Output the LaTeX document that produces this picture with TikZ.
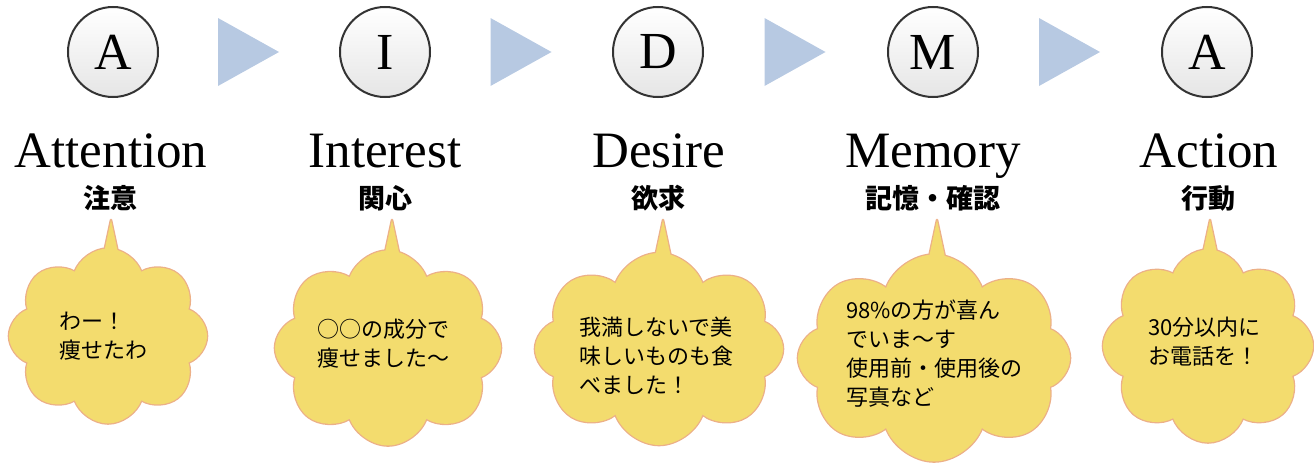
\documentclass[tikz,border=0pt]{standalone}
\usepackage{fontspec}
\setmainfont{Liberation Serif}
\newfontfamily\jp{Noto Sans CJK JP}
\usetikzlibrary{shapes.symbols,calc}

\definecolor{bubblefill}{RGB}{243,220,110}
\definecolor{bubbleline}{RGB}{236,176,136}
\definecolor{steparrow}{RGB}{183,201,226}

\tikzset{
	letterball/.style={circle, minimum size=90pt, inner sep=0pt, draw=black!80, line width=2pt,
		top color=white, bottom color=black!10, font=\fontsize{52}{52}\selectfont},
	stagetitle/.style={anchor=base, inner sep=0pt, font=\fontsize{51}{51}\selectfont},
	stagejp/.style={inner sep=0pt, font=\jp\bfseries\fontsize{27}{27}\selectfont},
	bubble/.style={cloud, cloud puffs=8, cloud puff arc=140, cloud ignores aspect, inner sep=0pt},
	bubbletext/.style={anchor=west, inner sep=0pt, align=left, font=\jp\fontsize{22}{29}\selectfont},
	flowtri/.style={fill=steparrow}
}

\begin{document}
\begin{tikzpicture}[x=1pt,y=-1pt]
	
	\useasboundingbox (0,0) rectangle (1314,463);
	
	% Letters
	\node[letterball] (c1) at (113,52) {A};
	\node[letterball] (c2) at (385,52) {I};
	\node[letterball] (c3) at (658,52) {D};
	\node[letterball] (c4) at (933,52) {M};
	\node[letterball] (c5) at (1207,52) {A};
	
	% Arrows between the letters
	\foreach \i/\j in {1/2,2/3,3/4,4/5}
		\fill[flowtri] ($(c\i)!0.5!(c\j)$) ++(-31,-34) -- ++(61,34) -- ++(-61,34) -- cycle;
	
	% Titles
	\node[stagetitle] (t1) at (111,167) {Attention};
	\node[stagetitle] (t2) at (385,167) {Interest};
	\node[stagetitle] (t3) at (659,167) {Desire};
	\node[stagetitle] (t4) at (933,167) {Memory};
	\node[stagetitle] (t5) at (1209,167) {Action};
	
	\node[stagejp] (j1) at (110,198) {注意};
	\node[stagejp] (j2) at (385,198) {関心};
	\node[stagejp] (j3) at (658,198) {欲求};
	\node[stagejp] (j4) at (933,198) {記憶・確認};
	\node[stagejp] (j5) at (1208,198) {行動};
	
	% Speech clouds
	\foreach \n/\cx/\cy/\w/\h/\tx in {1/108/336/198/175/111, 2/388/348/226/195/392, 3/659/349/248/192/663,
			4/934/358/272/207/937, 5/1208/346/210/193/1210}{
		\coordinate (tip\n) at (\tx,220);
		\draw[bubbleline, line width=2.6pt, line join=round] (tip\n) -- ++(-9,42) -- ++(18,0) -- cycle;
		\node[bubble, minimum width=\w pt, minimum height=\h pt, fill=bubblefill,
			preaction={draw=bubbleline, line width=2.6pt}] (b\n) at (\cx,\cy) {};
		\fill[bubblefill] (tip\n) -- ++(-9,42) -- ++(18,0) -- cycle;
	}
	
	% Cloud texts
	\node[bubbletext] (s1) at (59,336) {わー！\\痩せたわ};
	\node[bubbletext] (s2) at (317,344) {○○の成分で\\痩せました〜};
	\node[bubbletext] (s3) at (579,356) {我満しないで美\\味しいものも食\\べました！};
	\node[bubbletext] (s4) at (846,354) {98\%の方が喜ん\\でいま〜す\\使用前・使用後の\\写真など};
	\node[bubbletext] (s5) at (1148,342) {30分以内に\\お電話を！};
	
\end{tikzpicture}
\end{document}
